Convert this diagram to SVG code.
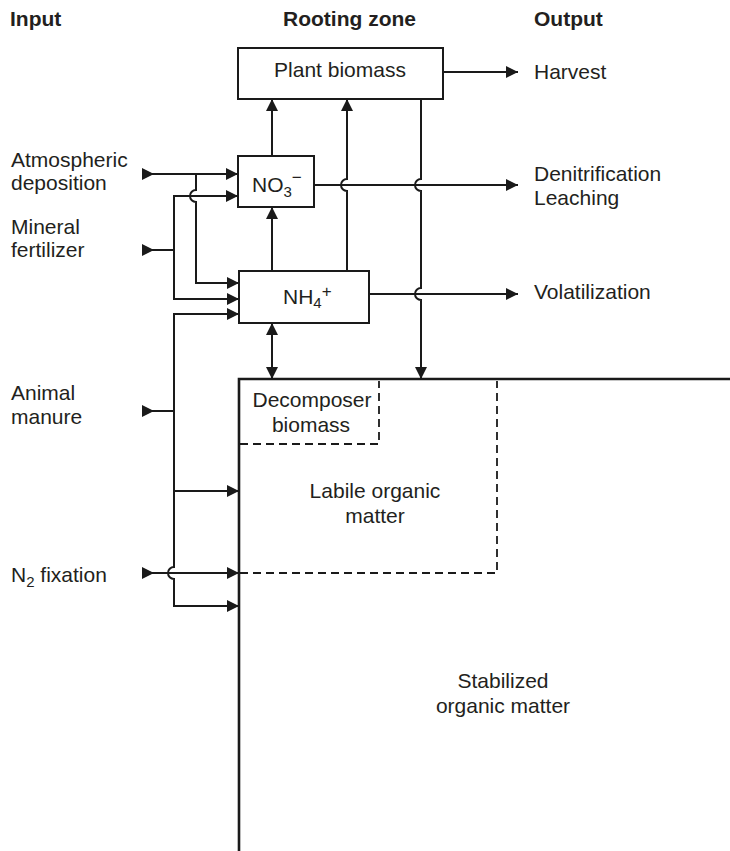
<svg xmlns="http://www.w3.org/2000/svg" width="730" height="851" viewBox="0 0 730 851">
<style>
text{font-family:"Liberation Sans",Arial,sans-serif;font-size:21px;fill:#231f20}
.h{font-weight:bold}
.m{text-anchor:middle}
.box{fill:#fff;stroke:#1a1a1a;stroke-width:2}
.ln{fill:none;stroke:#1a1a1a;stroke-width:2}
.arr{marker-end:url(#ah)}
.tail{marker-start:url(#tl)}
.dash{fill:none;stroke:#1a1a1a;stroke-width:1.8;stroke-dasharray:8 5}
.soil{fill:none;stroke:#1a1a1a;stroke-width:2.6}
</style>
<defs>
<marker id="ah" markerUnits="userSpaceOnUse" markerWidth="12" markerHeight="12" refX="12" refY="6" orient="auto" viewBox="0 0 12 12"><path d="M0,0 L12,6 L0,12 z" fill="#1a1a1a"/></marker>
<marker id="ah2" markerUnits="userSpaceOnUse" markerWidth="12" markerHeight="12" refX="12" refY="6" orient="auto-start-reverse" viewBox="0 0 12 12"><path d="M0,0 L12,6 L0,12 z" fill="#1a1a1a"/></marker>
<marker id="tl" markerUnits="userSpaceOnUse" markerWidth="12" markerHeight="12" refX="0" refY="6" orient="auto" viewBox="0 0 12 12"><path d="M0,0 L12,6 L0,12 z" fill="#1a1a1a"/></marker>
</defs>
<rect width="730" height="851" fill="#fff"/>

<g id="headers">
<text class="h" x="10" y="26">Input</text>
<text class="h" x="283" y="26">Rooting zone</text>
<text class="h" x="534" y="26">Output</text>
</g>

<g id="soil">
<path class="soil" d="M239 851 V379 H730"/>
</g>
<g id="decomposer">
<path class="dash" d="M240 444 H379 V381"/>
<text class="m" x="312" y="407">Decomposer</text>
<text class="m" x="311" y="432">biomass</text>
</g>
<g id="labile">
<path class="dash" d="M240 573 H497 V381"/>
<text class="m" x="375" y="498">Labile organic</text>
<text class="m" x="375" y="523">matter</text>
</g>
<g id="stabilized">
<text class="m" x="503" y="688">Stabilized</text>
<text class="m" x="503" y="713">organic matter</text>
</g>

<g id="connectors">
<path class="ln tail arr" d="M142 174 H238"/>
<path class="ln arr" d="M196 174 V190 A6 6 0 0 0 196 202 V283 H239"/>
<path class="ln tail" d="M142 250 H174"/>
<path class="ln arr" d="M174 250 V196 H238"/>
<path class="ln arr" d="M174 250 V299 H239"/>
<path class="ln tail" d="M142 411 H174"/>
<path class="ln arr" d="M174 411 V314 H239"/>
<path class="ln arr" d="M174 411 V567 A6 6 0 0 0 174 579 V606 H239"/>
<path class="ln arr" d="M174 491 H239"/>
<path class="ln tail arr" d="M142 573 H239"/>
<path class="ln arr" d="M272 156 V99"/>
<path class="ln arr" d="M272 271 V207"/>
<path class="ln arr" d="M347 271 V191 A6 6 0 0 1 347 179 V99"/>
<path class="ln" style="marker-start:url(#ah2);marker-end:url(#ah2)" d="M272 323 V379"/>
<path class="ln arr" d="M443 72 H518"/>
<path class="ln arr" d="M314 185 H518"/>
<path class="ln arr" d="M369 294 H518"/>
<path class="ln arr" d="M421 99 V179 A6 6 0 0 0 421 191 V288 A6 6 0 0 0 421 300 V379"/>
</g>

<g id="plant-biomass">
<rect class="box" x="238" y="48" width="205" height="51"/>
<text class="m" x="340" y="77">Plant biomass</text>
</g>
<g id="no3">
<rect class="box" x="238" y="156" width="76" height="51"/>
<text x="252" y="192">NO<tspan dy="5" font-size="15">3</tspan><tspan dy="-14" font-size="17">−</tspan></text>
</g>
<g id="nh4">
<rect class="box" x="239" y="271" width="130" height="52"/>
<text x="283" y="304">NH<tspan dy="4" font-size="15">4</tspan><tspan dy="-11" font-size="17">+</tspan></text>
</g>

<g id="inputs">
<text x="11" y="167">Atmospheric</text>
<text x="11" y="190">deposition</text>
<text x="11" y="234">Mineral</text>
<text x="11" y="257">fertilizer</text>
<text x="11" y="400">Animal</text>
<text x="11" y="424">manure</text>
<text x="11" y="582">N<tspan dy="5" font-size="15">2</tspan><tspan dy="-5"> fixation</tspan></text>
</g>
<g id="outputs">
<text x="534" y="79">Harvest</text>
<text x="534" y="181">Denitrification</text>
<text x="534" y="205">Leaching</text>
<text x="534" y="299">Volatilization</text>
</g>
</svg>
